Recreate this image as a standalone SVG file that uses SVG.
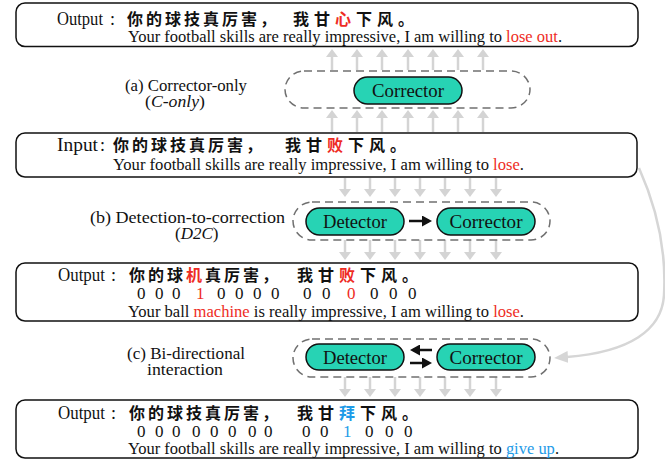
<svg xmlns="http://www.w3.org/2000/svg" width="665" height="463" viewBox="0 0 665 463">
<style>
.box{fill:#fff;stroke:#111;stroke-width:1.5}
.oval{fill:none;stroke:#707070;stroke-width:1.5;stroke-dasharray:8 5}
.pill{fill:#27d3b4;stroke:#111;stroke-width:1.5}
.en{font-family:"Liberation Serif",serif;font-size:16.5px;fill:#111}
.hd{font-family:"Liberation Serif",serif;font-size:18px;fill:#111}
.lab{font-family:"Liberation Serif",serif;font-size:17px;fill:#111}
.pt{font-family:"Liberation Serif",serif;font-size:18.5px;fill:#111;text-anchor:middle}
.zh{font-family:"Noto Sans CJK SC",sans-serif;font-weight:700;font-size:16px;fill:#111}
.dg{font-family:"Liberation Serif",serif;font-size:17px;fill:#111}
.red{fill:#ee2c24}
.blue{fill:#1e9be8}
.ga{stroke:#d4d4d4;stroke-width:2.5;fill:none}
.ba{stroke:#111;stroke-width:2.5;fill:none}
</style>
<defs>
<marker id="gh" viewBox="0 0 8 12" refX="5" refY="6" markerWidth="8" markerHeight="12" markerUnits="userSpaceOnUse" orient="auto"><path d="M0,0L8,6L0,12z" fill="#d4d4d4"/></marker>
<marker id="bh" viewBox="0 0 10 11" refX="7" refY="5.5" markerWidth="10" markerHeight="11" markerUnits="userSpaceOnUse" orient="auto"><path d="M0,0L10,5.5L0,11z" fill="#111"/></marker>
<marker id="ch" viewBox="0 0 14 12" refX="1" refY="6" markerWidth="14" markerHeight="12" markerUnits="userSpaceOnUse" orient="auto"><path d="M0,0L14,6L0,12z" fill="#d6d6d6"/></marker>
</defs>

<g id="connectors">
  <g class="ga" marker-end="url(#gh)">
    <path d="M332,70V52"/><path d="M357,70V52"/><path d="M382,70V52"/><path d="M408,70V52"/><path d="M433,70V52"/><path d="M458,70V52"/><path d="M483,70V52"/>
    <path d="M332,132V113"/><path d="M357,132V113"/><path d="M382,132V113"/><path d="M408,132V113"/><path d="M433,132V113"/><path d="M458,132V113"/><path d="M483,132V113"/>
    <path d="M345,178V194"/><path d="M370,178V194"/><path d="M395,178V194"/><path d="M420,178V194"/><path d="M445,178V194"/><path d="M470,178V194"/><path d="M496,178V194"/>
    <path d="M345,240V257"/><path d="M370,240V257"/><path d="M395,240V257"/><path d="M420,240V257"/><path d="M445,240V257"/><path d="M470,240V257"/><path d="M496,240V257"/>
    <path d="M345,377V394"/><path d="M370,377V394"/><path d="M395,377V394"/><path d="M420,377V394"/><path d="M445,377V394"/><path d="M470,377V394"/><path d="M496,377V394"/>
  </g>
  <path d="M639,168 C660,215 666,260 664,295 C662,330 630,352 567,357" stroke="#d6d6d6" stroke-width="2.5" fill="none" marker-end="url(#ch)"/>
  <path class="ba" d="M409,221H429" marker-end="url(#bh)"/>
  <path class="ba" d="M432,350H413" marker-end="url(#bh)"/>
  <path class="ba" d="M410,363H429" marker-end="url(#bh)"/>
</g>

<g id="output-a">
  <rect class="box" x="16" y="3" width="622" height="43.5" rx="9"/>
  <text class="hd" x="57" y="24.5" textLength="46" lengthAdjust="spacingAndGlyphs">Output</text>
  <text class="hd" x="110" y="24.5">:</text>
  <text class="zh" x="127" y="24.5" letter-spacing="3">你的球技真厉害，</text>
  <text class="zh" x="293" y="24.5" letter-spacing="5">我甘<tspan class="red">心</tspan>下风。</text>
  <text class="en" x="128" y="41.5" textLength="434" lengthAdjust="spacingAndGlyphs">Your football skills are really impressive, I am willing to <tspan class="red">lose out</tspan>.</text>
</g>

<g id="label-a">
  <text class="lab" x="125" y="91" textLength="122" lengthAdjust="spacingAndGlyphs">(a) Corrector-only</text>
  <text class="lab" x="145" y="107" textLength="60" lengthAdjust="spacingAndGlyphs">(<tspan font-style="italic">C-only</tspan>)</text>
</g>
<g id="module-a">
  <rect class="oval" x="285" y="71" width="245" height="37" rx="19"/>
  <g id="corrector-a">
    <rect class="pill" x="354" y="77" width="108" height="27" rx="13.5"/>
    <text class="pt" x="408" y="97" textLength="72" lengthAdjust="spacingAndGlyphs">Corrector</text>
  </g>
</g>

<g id="input">
  <rect class="box" x="16" y="133" width="621" height="44" rx="9"/>
  <text class="hd" x="57" y="150.5" textLength="41" lengthAdjust="spacingAndGlyphs">Input</text>
  <text class="hd" x="100" y="150.5">:</text>
  <text class="zh" x="113" y="150.5" letter-spacing="3">你的球技真厉害，</text>
  <text class="zh" x="285" y="150.5" letter-spacing="5">我甘<tspan class="red">败</tspan>下风。</text>
  <text class="en" x="113" y="170" textLength="411" lengthAdjust="spacingAndGlyphs">Your football skills are really impressive, I am willing to <tspan class="red">lose</tspan>.</text>
</g>

<g id="label-b">
  <text class="lab" x="90" y="223" textLength="195" lengthAdjust="spacingAndGlyphs">(b) Detection-to-correction</text>
  <text class="lab" x="175" y="239">(<tspan font-style="italic">D2C</tspan>)</text>
</g>
<g id="module-b">
  <rect class="oval" x="293" y="202" width="257" height="38" rx="19"/>
  <g id="detector-b">
    <rect class="pill" x="306" y="208" width="98" height="27" rx="13.5"/>
    <text class="pt" x="355" y="227.5" textLength="64" lengthAdjust="spacingAndGlyphs">Detector</text>
  </g>
  <g id="corrector-b">
    <rect class="pill" x="437" y="208" width="98" height="27" rx="13.5"/>
    <text class="pt" x="486" y="227.5" textLength="73" lengthAdjust="spacingAndGlyphs">Corrector</text>
  </g>
</g>

<g id="output-b">
  <rect class="box" x="16" y="263" width="622" height="58" rx="9"/>
  <text class="hd" x="58" y="280.5" textLength="47" lengthAdjust="spacingAndGlyphs">Output</text>
  <text class="hd" x="111" y="280.5">:</text>
  <text class="zh" x="129" y="280.5" letter-spacing="3">你的球<tspan class="red">机</tspan>真厉害，</text>
  <text class="zh" x="297" y="280.5" letter-spacing="5">我甘<tspan class="red">败</tspan>下风。</text>
  <text class="dg" y="299"><tspan x="137 155 172">000</tspan><tspan class="red" x="196">1</tspan><tspan x="217 235 253 271 303 322">000000</tspan><tspan class="red" x="347">0</tspan><tspan x="370 389 408">000</tspan></text>
  <text class="en" x="128" y="317" textLength="396" lengthAdjust="spacingAndGlyphs">Your ball <tspan class="red">machine</tspan> is really impressive, I am willing to <tspan class="red">lose</tspan>.</text>
</g>

<g id="label-c">
  <text class="lab" x="127" y="359" textLength="118" lengthAdjust="spacingAndGlyphs">(c) Bi-directional</text>
  <text class="lab" x="147" y="375" textLength="76" lengthAdjust="spacingAndGlyphs">interaction</text>
</g>
<g id="module-c">
  <rect class="oval" x="293" y="339" width="257" height="38" rx="19"/>
  <g id="detector-c">
    <rect class="pill" x="306" y="344" width="98" height="26" rx="13"/>
    <text class="pt" x="355" y="363.5" textLength="64" lengthAdjust="spacingAndGlyphs">Detector</text>
  </g>
  <g id="corrector-c">
    <rect class="pill" x="437" y="344" width="98" height="26" rx="13"/>
    <text class="pt" x="486" y="363.5" textLength="73" lengthAdjust="spacingAndGlyphs">Corrector</text>
  </g>
</g>

<g id="output-c">
  <rect class="box" x="16" y="400" width="622" height="58" rx="9"/>
  <text class="hd" x="58" y="418.5" textLength="47" lengthAdjust="spacingAndGlyphs">Output</text>
  <text class="hd" x="111" y="418.5">:</text>
  <text class="zh" x="129" y="418.5" letter-spacing="3">你的球技真厉害，</text>
  <text class="zh" x="297" y="418.5" letter-spacing="5">我甘<tspan class="blue">拜</tspan>下风。</text>
  <text class="dg" y="437"><tspan x="137 155 172 192 210 228 248 264 302 320">0000000000</tspan><tspan class="blue" x="343">1</tspan><tspan x="365 385 404">000</tspan></text>
  <text class="en" x="128" y="453.5" textLength="431" lengthAdjust="spacingAndGlyphs">Your football skills are really impressive, I am willing to <tspan class="blue">give up</tspan>.</text>
</g>
</svg>
